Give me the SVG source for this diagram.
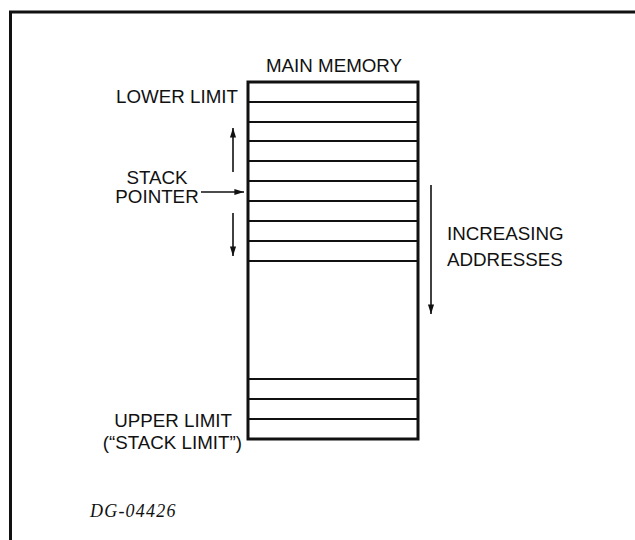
<svg xmlns="http://www.w3.org/2000/svg" width="635" height="540" viewBox="0 0 635 540">
  <defs>
    <marker id="ah" viewBox="0 0 10 10" refX="10" refY="5" markerWidth="6.5" markerHeight="6" markerUnits="strokeWidth" orient="auto">
      <path d="M0,1.8 L10,5 L0,8.2 Z" fill="#111"/>
    </marker>
    <style>
      .t { font-family: "Liberation Sans", Arial, sans-serif; font-size: 18.75px; fill: #111; }
      .div { stroke: #111; stroke-width: 1.8; }
      .arr { stroke: #111; stroke-width: 1.6; fill: none; marker-end: url(#ah); }
    </style>
  </defs>
  <rect width="635" height="540" fill="#fff"/>
  <!-- outer frame -->
  <path d="M10.5,545 L10.5,12 L640,12" fill="none" stroke="#111" stroke-width="3"/>

  <g id="memory">
    <text class="t" x="334" y="72" text-anchor="middle">MAIN MEMORY</text>
    <rect x="248" y="82" width="170" height="357" fill="none" stroke="#111" stroke-width="3"/>
    <line class="div" x1="248" y1="102" x2="418" y2="102"/>
    <line class="div" x1="248" y1="122" x2="418" y2="122"/>
    <line class="div" x1="248" y1="141" x2="418" y2="141"/>
    <line class="div" x1="248" y1="161" x2="418" y2="161"/>
    <line class="div" x1="248" y1="181" x2="418" y2="181"/>
    <line class="div" x1="248" y1="201" x2="418" y2="201"/>
    <line class="div" x1="248" y1="221" x2="418" y2="221"/>
    <line class="div" x1="248" y1="241" x2="418" y2="241"/>
    <line class="div" x1="248" y1="261" x2="418" y2="261"/>
    <line class="div" x1="248" y1="379" x2="418" y2="379"/>
    <line class="div" x1="248" y1="399" x2="418" y2="399"/>
    <line class="div" x1="248" y1="419" x2="418" y2="419"/>
  </g>

  <g id="lower-limit">
    <text class="t" x="238" y="103" text-anchor="end">LOWER LIMIT</text>
  </g>

  <g id="stack-pointer">
    <text class="t" x="157" y="184" text-anchor="middle">STACK</text>
    <text class="t" x="157" y="203" text-anchor="middle">POINTER</text>
  </g>

  <g id="increasing">
    <text class="t" x="447" y="240">INCREASING</text>
    <text class="t" x="447" y="266">ADDRESSES</text>
  </g>

  <g id="upper-limit">
    <text class="t" x="232" y="427" text-anchor="end">UPPER LIMIT</text>
    <text class="t" x="242" y="449" text-anchor="end">(“STACK LIMIT”)</text>
  </g>

  <g id="connectors">
    <line class="arr" x1="233" y1="172" x2="233" y2="128"/>
    <line class="arr" x1="233" y1="213" x2="233" y2="256"/>
    <line class="arr" x1="201" y1="192" x2="244" y2="192"/>
    <line class="arr" x1="431" y1="185" x2="431" y2="314"/>
  </g>

  <g id="figure-id">
    <text x="90" y="517" font-family="'Liberation Serif', 'Times New Roman', serif" font-style="italic" font-size="18" letter-spacing="1.2" fill="#111">DG-04426</text>
  </g>
</svg>
